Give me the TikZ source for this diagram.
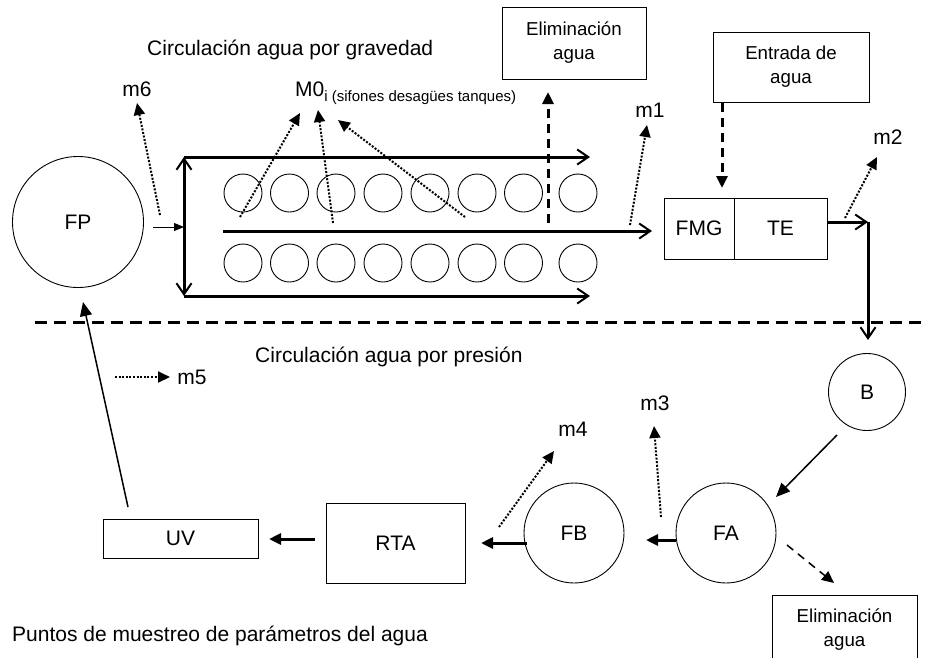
\documentclass[tikz,border=0pt]{standalone}
\usepackage{fontspec}
\setmainfont{Liberation Sans}
\usetikzlibrary{arrows.meta}
\begin{document}
\begin{tikzpicture}[x=1pt,y=-1pt,
  font=\fontsize{21}{24}\selectfont,
  thinline/.style={line width=0.9pt},
  thickline/.style={line width=3pt},
  openarrow/.style={-{Straight Barb[length=11pt,width=15pt,line width=2pt]}},
  openboth/.style={{Straight Barb[length=11pt,width=15pt,line width=2pt]}-{Straight Barb[length=11pt,width=15pt,line width=2pt]}},
  filltip/.style={-{Triangle[length=12pt,width=11pt]}},
  dotarrow/.style={line width=2pt,dash pattern=on 2pt off 1.6pt,filltip},
  dasharrow/.style={line width=3pt,dash pattern=on 9pt off 6pt,filltip},
  tank/.style={circle,draw,thinline,minimum size=38pt,inner sep=0pt},
  bigcirc/.style={circle,draw,thinline,inner sep=0pt},
  boxnode/.style={draw,thinline,inner sep=0pt,align=center},
  lbl/.style={inner sep=0pt}
]
\useasboundingbox (0,0) rectangle (926,657);
\clip (0,0) rectangle (926,657);

% titles
\node[lbl,anchor=west] (t1) at (147,50) {Circulación agua por gravedad};
\node[lbl,anchor=west] (t2) at (255,357) {Circulación agua por presión};
\node[lbl,anchor=west] (t3) at (12,636) {Puntos de muestreo de parámetros del agua};

% FP
\node[bigcirc,minimum size=131pt] (FP) at (78,222) {FP};

% m6
\node[lbl] (m6) at (137,89) {m6};
\coordinate (m6s) at (160,215);
\coordinate (m6t) at (137,103);
\draw[dotarrow] (m6s) -- (m6t);

% small arrow FP -> bracket
\coordinate (fpo) at (153,227);
\coordinate (bri) at (184,227);
\draw[thinline,-{Triangle[length=10pt,width=8pt]}] (fpo) -- (bri);

% bracket lines
\coordinate (tl) at (184,157);
\coordinate (bl) at (184,296);
\coordinate (tr) at (590,157);
\coordinate (br) at (590,296);
\draw[thickline,openboth] (tl) -- (bl);
\draw[thickline,openarrow] (tl) -- (tr);
\draw[thickline,openarrow] (bl) -- (br);

% tanks
\foreach \x [count=\i] in {243,289.5,336,383,430,477,523.5,578}{
  \node[tank] (ta\i) at (\x,193) {};
  \node[tank] (tb\i) at (\x,263) {};
}

% middle line
\coordinate (ms) at (223,231);
\coordinate (me) at (652,231);
\draw[thickline,openarrow] (ms) -- (me);

% M0 label
\node[lbl,anchor=west] (M0) at (295,93) {M0\raisebox{-0.45ex}{\fontsize{15}{17}\selectfont i (sifones desagües tanques)}};
\coordinate (s1) at (240,217);
\coordinate (s1t) at (300,113);
\coordinate (s2) at (333,223);
\coordinate (s2t) at (318,110);
\coordinate (s3) at (465,217);
\coordinate (s3t) at (338,120);
\draw[dotarrow] (s1) -- (s1t);
\draw[dotarrow] (s2) -- (s2t);
\draw[dotarrow] (s3) -- (s3t);

% Elimination top
\node[boxnode,minimum width=144pt,minimum height=72pt,font=\fontsize{18.7}{24}\selectfont] (E1) at (574,43) {Eliminación\\agua};
\coordinate (d1s) at (548,223);
\coordinate (d1t) at (548,92);
\draw[dasharrow] (d1s) -- (d1t);

% m1
\node[lbl] (m1) at (650,110) {m1};
\coordinate (m1s) at (630,225);
\coordinate (m1t) at (647,125);
\draw[dotarrow] (m1s) -- (m1t);

% FMG / TE
\node[boxnode,minimum width=70pt,minimum height=61pt] (FMG) at (699,228.5) {FMG};
\node[boxnode,minimum width=93pt,minimum height=61pt] (TE) at (780.5,228.5) {\raisebox{-4pt}{TE}};

% Entrada de agua
\node[boxnode,minimum width=156pt,minimum height=70pt,font=\fontsize{18.7}{24}\selectfont] (EA) at (791,67) {Entrada de\\agua};
\coordinate (eas) at (722,103);
\coordinate (eat) at (722,188);
\draw[dasharrow] (eas) -- (eat);

% m2
\node[lbl] (m2) at (888,137) {m2};
\coordinate (m2s) at (845,218);
\coordinate (m2t) at (877,157);
\draw[dotarrow] (m2s) -- (m2t);

% TE out to B
\coordinate (teo) at (827,222);
\coordinate (corner) at (868,222);
\coordinate (bin) at (868,340);
\draw[thickline,openarrow] (teo) -- (corner);
\draw[thickline,openarrow] (corner) -- (bin);

% divider
\coordinate (dvl) at (35,322);
\coordinate (dvr) at (926,322);
\draw[line width=3pt,dash pattern=on 12pt off 7pt] (dvl) -- (dvr);

% B
\node[bigcirc,minimum size=77pt] (B) at (867,392) {B};

% FA
\node[bigcirc,minimum size=100pt] (FA) at (726,533) {FA};
\coordinate (bfs) at (837,435);
\coordinate (bft) at (776,497);
\draw[thinline,line width=1.5pt,-{Triangle[length=14pt,width=12pt]}] (bfs) -- (bft);

% FA -> Eliminación bottom
\node[boxnode,draw=none,minimum width=145pt,minimum height=70pt,font=\fontsize{18.7}{24}\selectfont] (E2) at (844.5,630) {Eliminación\\agua};
\draw[thinline] (772,660) -- (772,595) -- (917,595) -- (917,660);
\coordinate (fes) at (787,545);
\coordinate (fet) at (834,583);
\draw[line width=1.5pt,dash pattern=on 8pt off 6pt,filltip] (fes) -- (fet);

% m3
\node[lbl] (m3) at (655,403) {m3};
\coordinate (m3s) at (661,517);
\coordinate (m3t) at (654,426);
\draw[dotarrow] (m3s) -- (m3t);

% FB
\node[bigcirc,minimum size=100pt] (FB) at (574,533) {FB};
\coordinate (fas) at (676,540);
\coordinate (fat) at (646,540);
\draw[thickline,filltip] (fas) -- (fat);

% m4
\node[lbl] (m4) at (573,429) {m4};
\coordinate (m4s) at (499,527);
\coordinate (m4t) at (554,451);
\draw[dotarrow] (m4s) -- (m4t);

% RTA
\node[boxnode,minimum width=139pt,minimum height=80pt] (RTA) at (395.5,543) {\raisebox{-4pt}{RTA}};
\coordinate (fbs) at (527,543);
\coordinate (fbt) at (481,543);
\draw[thickline,filltip] (fbs) -- (fbt);

% UV
\node[boxnode,minimum width=155pt,minimum height=39pt] (UV) at (180.5,538.5) {UV};
\coordinate (rus) at (315,539);
\coordinate (rut) at (269,539);
\draw[thickline,filltip] (rus) -- (rut);

% UV -> FP
\coordinate (uvs) at (128,507);
\coordinate (uvt) at (83,302);
\draw[line width=1.5pt,-{Triangle[length=14pt,width=12pt]}] (uvs) -- (uvt);

% m5
\node[lbl] (m5) at (192,377) {m5};
\coordinate (m5s) at (115,377);
\coordinate (m5t) at (170,377);
\draw[dotarrow] (m5s) -- (m5t);
\end{tikzpicture}
\end{document}
